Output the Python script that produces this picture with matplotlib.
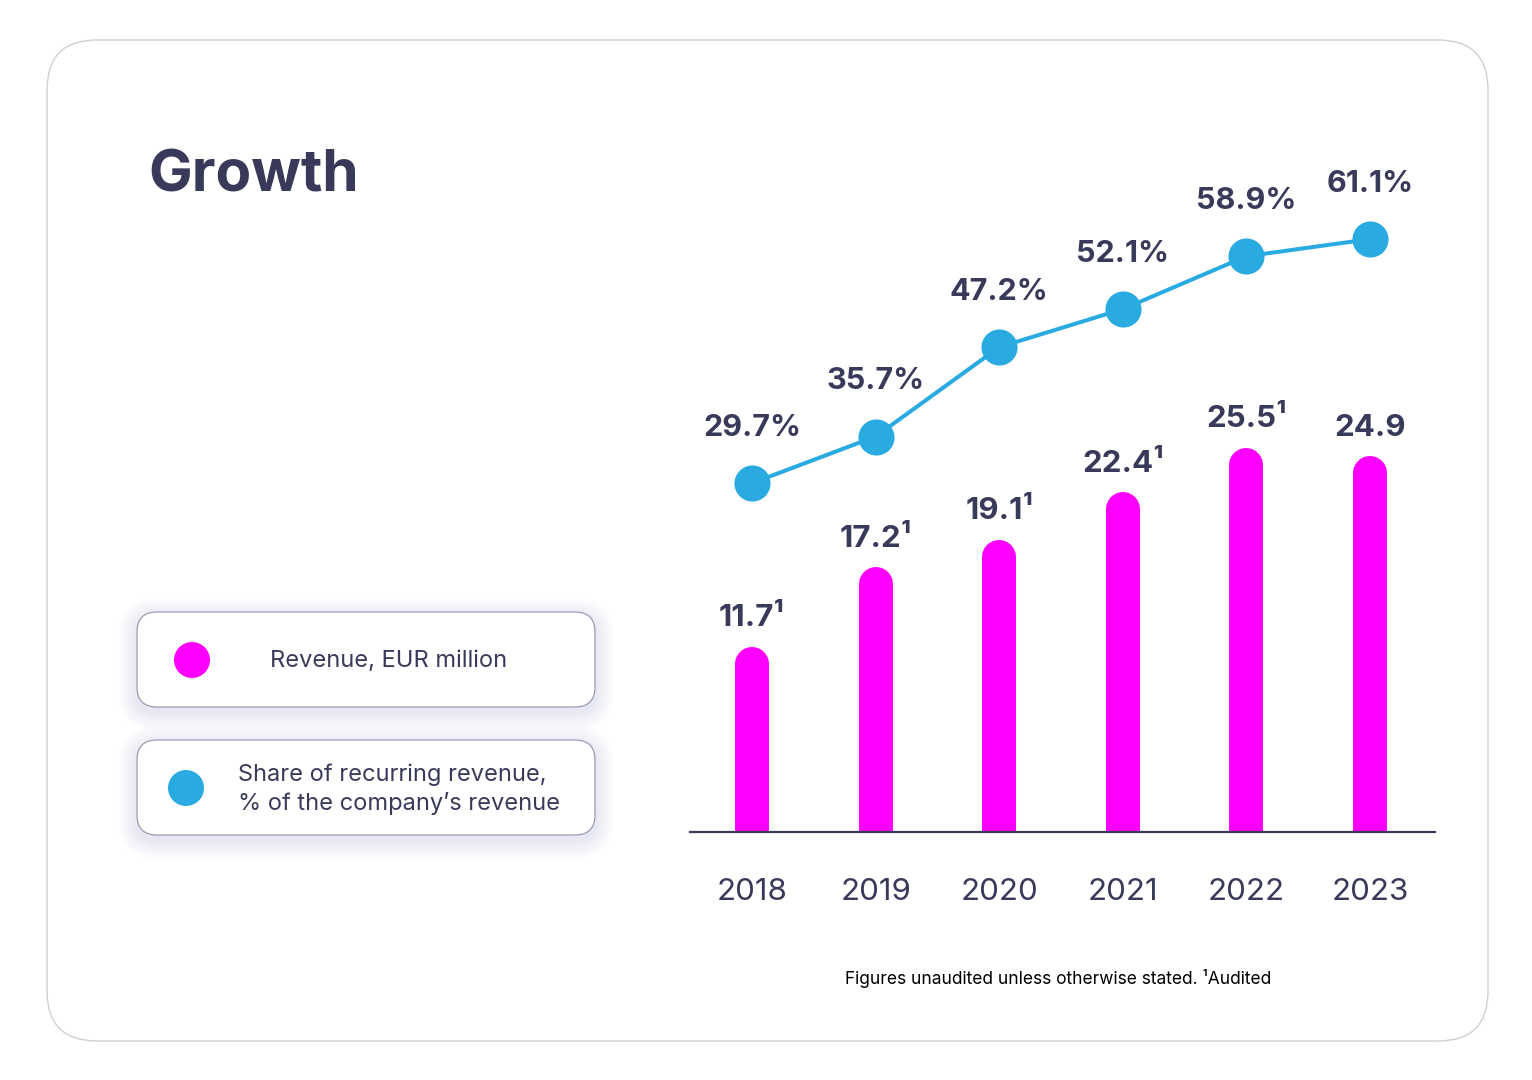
import matplotlib
matplotlib.use('Agg')
import matplotlib.pyplot as plt
from matplotlib.patches import FancyBboxPatch, Circle

plt.rcParams['font.family'] = ['Inter', 'DejaVu Sans']

# data
years = ['2018', '2019', '2020', '2021', '2022', '2023']
revenue = [11.7, 17.2, 19.1, 22.4, 25.5, 24.9]
revenue_labels = ['11.7¹', '17.2¹', '19.1¹', '22.4¹', '25.5¹', '24.9']
recurring_share = [29.7, 35.7, 47.2, 52.1, 58.9, 61.1]
share_labels = ['29.7%', '35.7%', '47.2%', '52.1%', '58.9%', '61.1%']
legend_texts = ['Revenue, EUR million',
                'Share of recurring revenue,\n% of the company’s revenue']

TEXT = '#393a5a'
MAGENTA = '#ff00ff'
BLUE = '#29abe2'

W, H = 1532, 1080
fig = plt.figure(figsize=(W / 100, H / 100), dpi=100)
fig.patch.set_facecolor('white')

# background layer in pixel units (y goes down)
bg = fig.add_axes([0, 0, 1, 1], zorder=0)
bg.set_xlim(0, W)
bg.set_ylim(H, 0)
bg.axis('off')

# card
bg.add_patch(FancyBboxPatch((47, 40), 1441, 1001,
                            boxstyle="round,pad=0,rounding_size=50",
                            facecolor='white', edgecolor='#cfcfd8', linewidth=1.0))

bg.text(148, 192, 'Growth', fontsize=42, fontweight='bold', color=TEXT,
        ha='left', va='baseline')

# legend boxes with soft shadow
boxes = [(137, 612, 458, 95), (137, 740, 458, 95)]
dots = [((192, 660), MAGENTA), ((186, 788), BLUE)]
for (bx, by, bw, bh) in boxes:
    for i in range(12):
        g = 1 + i * 1.6
        bg.add_patch(FancyBboxPatch((bx - g, by - g + 5), bw + 2 * g, bh + 2 * g,
                                    boxstyle=f"round,pad=0,rounding_size={20 + g}",
                                    facecolor='#b4b4d6', edgecolor='none', alpha=0.022))
    bg.add_patch(FancyBboxPatch((bx, by), bw, bh,
                                boxstyle="round,pad=0,rounding_size=20",
                                facecolor='white', edgecolor='#9c9cb4', linewidth=0.9))
for (c, col) in dots:
    bg.add_patch(Circle(c, 18, facecolor=col, edgecolor='none'))

bg.text(270, 661, legend_texts[0], fontsize=17, color=TEXT, ha='left', va='center')
bg.text(238, 789, legend_texts[1], fontsize=17, color=TEXT, ha='left', va='center',
        linespacing=1.35)

bg.text(1058, 978, 'Figures unaudited unless otherwise stated. ¹Audited',
        fontsize=12.5, color='black', ha='center', va='center')

# chart axes
ax = fig.add_axes([690 / W, (H - 832) / H, 745 / W, 682 / H], zorder=2)
ax.patch.set_alpha(0)
x = list(range(len(years)))
ax.vlines(x, 0, revenue, colors=MAGENTA, linewidth=24.5, capstyle='round', zorder=2)
ax.set_xlim(-0.502, 5.526)
ax.set_ylim(0, 682 / 14.4)
for s in ['top', 'right', 'left']:
    ax.spines[s].set_visible(False)
ax.spines['bottom'].set_color('#3a3a5c')
ax.spines['bottom'].set_linewidth(1.6)
ax.spines['bottom'].set_zorder(5)
ax.set_yticks([])
ax.set_xticks(x, years)
ax.tick_params(axis='x', length=0, pad=33, labelsize=22.5, labelcolor=TEXT)

for xi, v, lab in zip(x, revenue, revenue_labels):
    ax.annotate(lab, (xi, v), xytext=(0, 27), textcoords='offset points',
                ha='center', va='baseline', fontsize=22.5, fontweight='bold', color=TEXT)

ax2 = ax.twinx()
ax2.set_ylim(-15.2, -15.2 + 682 / 7.77)
ax2.axis('off')
ax2.plot(x, recurring_share, color=BLUE, linewidth=2.9, marker='o', markersize=26,
         markerfacecolor=BLUE, markeredgecolor='none', zorder=3)
for xi, v, lab in zip(x, recurring_share, share_labels):
    ax2.annotate(lab, (xi, v), xytext=(0, 34), textcoords='offset points',
                 ha='center', va='baseline', fontsize=22, fontweight='bold', color=TEXT)

fig.savefig('out.png', dpi=100, facecolor='white')
